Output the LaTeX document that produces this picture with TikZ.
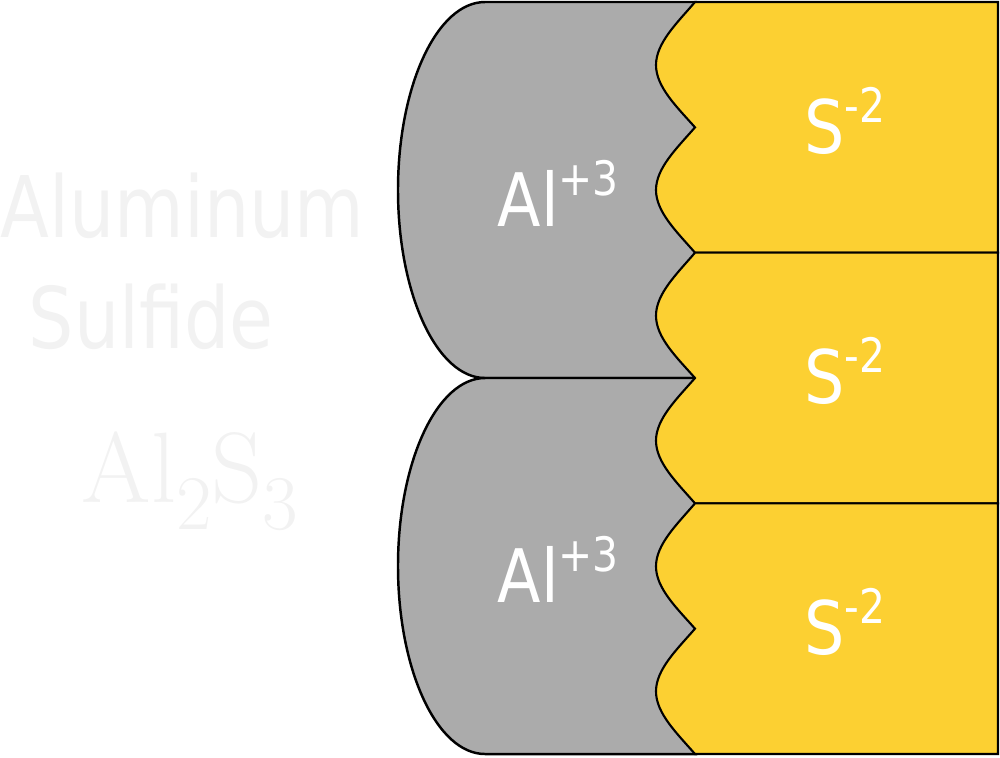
\documentclass[tikz,border=0pt]{standalone}
\usepackage{fontspec}
\usepackage{graphicx}
\usepackage{xcolor}
\usepackage{tikz}
\newfontfamily\dejavu{DejaVu Sans}
\definecolor{algray}{HTML}{ABABAB}
\definecolor{syellow}{HTML}{FCD032}
\newcommand{\charge}[1]{\raisebox{0.42em}{\fontsize{13.5}{13.5}\selectfont #1}}
\newcommand{\narrow}[1]{\scalebox{0.86}[1]{#1}}
\newcommand{\sub}[1]{\raisebox{-0.27em}{\fontsize{22}{22}\selectfont\oldstylenums{#1}}}
\tikzset{
  aluminum/.style={draw=black, line width=0.7pt, fill=algray, line join=round},
  sulfide/.style={draw=black, line width=0.6pt, fill=syellow, line join=miter},
  ion/.style={anchor=base west, inner sep=0pt, text=white, font=\dejavu\fontsize{21}{24}\selectfont},
  faint/.style={anchor=base west, inner sep=0pt, text=black!5, font=\dejavu\fontsize{24.2}{28}\selectfont},
}
\begin{document}
\begin{tikzpicture}[x=0.1mm, y=-0.1mm]
  \useasboundingbox (0,0) rectangle (1000,757);

  % name and formula
  \node[faint] (name1) at (0,237) {\scalebox{0.84}[1]{Aluminum}};
  \node[faint] (name2) at (28,348) {\scalebox{0.84}[1]{Sulfide}};
  \node[anchor=base west, inner sep=0pt, text=black!5, font=\fontsize{28.5}{30}\selectfont] (formula) at (81,502)
    {Al\sub{2}S\sub{3}};

  % two aluminium ions
  \foreach \r in {1,2} {
    \begin{scope}[shift={(0,{(\r-1)*376})}]
      \path[aluminum] (485,2) -- (697,2) -- (697,378) -- (485,378)
        .. controls (437,378) and (398,294) .. (398,190)
        .. controls (398,86) and (437,2) .. (485,2) -- cycle;
      \node[ion] (al\r) at (497,226) {\narrow{Al\charge{+3}}};
    \end{scope}
  }

  % three sulfide ions
  \foreach \r in {1,2,3} {
    \begin{scope}[shift={(0,{(\r-1)*250.67})}]
      \path[sulfide] (695,2) -- (998,2) -- (998,252.67) -- (695,252.67)
        .. controls (677,232) and (656,212) .. (656,190)
        .. controls (656,168) and (677,148) .. (695,127.33)
        .. controls (677,107) and (656,87) .. (656,65)
        .. controls (656,43) and (677,23) .. (695,2) -- cycle;
      \node[ion] (s\r) at (804,153) {\narrow{S\charge{-2}}};
    \end{scope}
  }
\end{tikzpicture}
\end{document}
